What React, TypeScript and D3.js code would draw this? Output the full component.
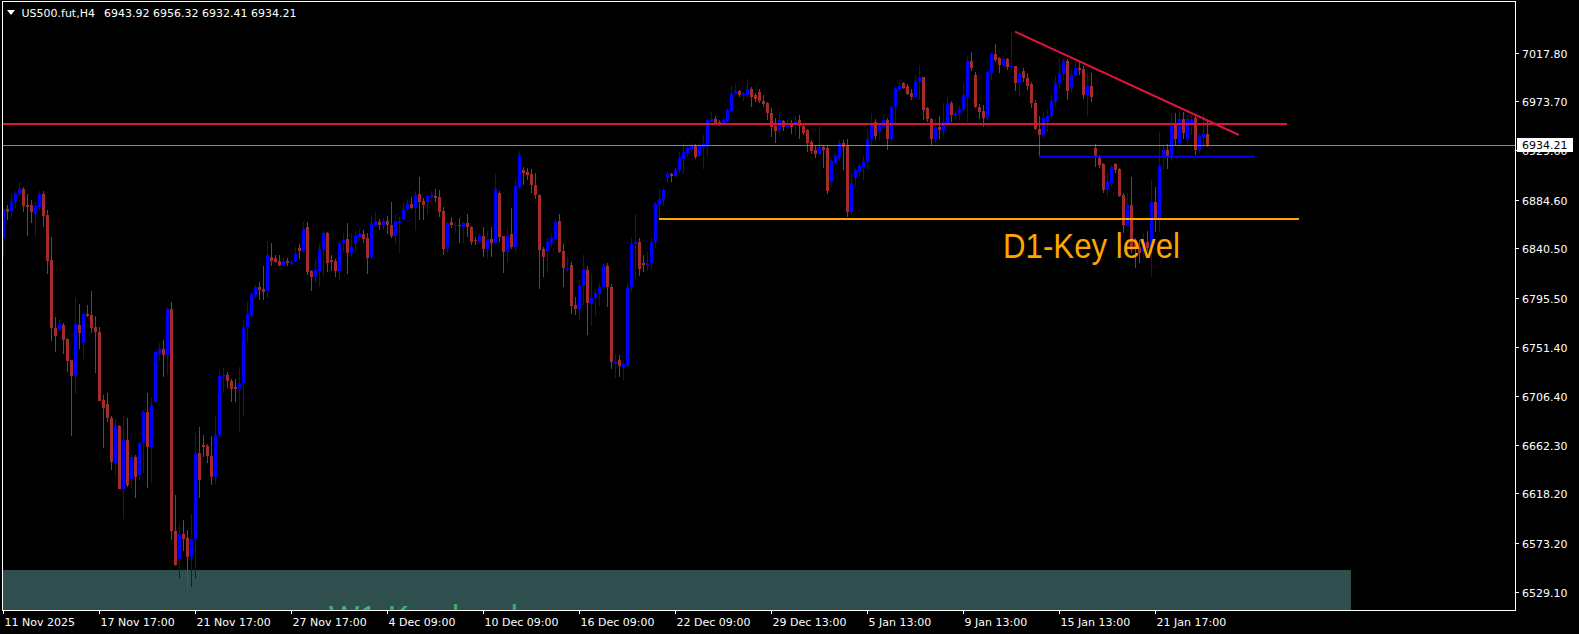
import { useEffect, useRef } from 'react'
import * as d3 from 'd3'

// H4 candles (bar 0 = 11 Nov 2025)
const opens = [
  6850, 6876, 6874, 6882, 6890, 6894, 6880, 6880, 6872, 6878,
  6890, 6871, 6830, 6768, 6767, 6771, 6758, 6739, 6725, 6771,
  6755, 6781, 6780, 6769, 6765, 6703, 6699, 6687, 6646, 6679,
  6622, 6667, 6631, 6651, 6635, 6664, 6692, 6660, 6701, 6745,
  6749, 6744, 6785, 6584, 6559, 6581, 6578, 6561, 6577, 6655,
  6662, 6661, 6652, 6633, 6671, 6724, 6726, 6720, 6715, 6713,
  6718, 6769, 6779, 6798, 6805, 6804, 6802, 6833, 6832, 6829,
  6825, 6829, 6826, 6829, 6841, 6838, 6860, 6820, 6814, 6820,
  6840, 6854, 6830, 6829, 6820, 6845, 6849, 6836, 6844, 6851,
  6853, 6850, 6833, 6862, 6864, 6862, 6865, 6862, 6852, 6863,
  6867, 6876, 6881, 6877, 6890, 6883, 6882, 6887, 6888, 6887,
  6874, 6841, 6864, 6861, 6862, 6860, 6863, 6860, 6848, 6847,
  6852, 6840, 6849, 6845, 6891, 6852, 6837, 6853, 6842, 6896,
  6911, 6910, 6908, 6898, 6889, 6840, 6837, 6845, 6849, 6865,
  6838, 6822, 6825, 6789, 6785, 6806, 6821, 6790, 6795, 6799,
  6805, 6824, 6805, 6736, 6739, 6733, 6734, 6805, 6844, 6846,
  6827, 6825, 6827, 6846, 6880, 6884, 6904, 6908, 6906, 6911,
  6921, 6927, 6930, 6933, 6924, 6932, 6934, 6956, 6958, 6955,
  6954, 6956, 6965, 6981, 6983, 6979, 6979, 6985, 6979, 6982,
  6974, 6972, 6963, 6951, 6949, 6956, 6950, 6953, 6952, 6957,
  6951, 6948, 6937, 6930, 6926, 6932, 6931, 6901, 6918, 6923,
  6936, 6933, 6873, 6905, 6910, 6914, 6920, 6940, 6955, 6946,
  6950, 6957, 6940, 6969, 6985, 6990, 6988, 6981, 6978, 6992,
  6996, 6968, 6958, 6940, 6950, 6947, 6954, 6972, 6961, 6963,
  6966, 6978, 7010, 6998, 6969, 6965, 6959, 6999, 7017, 7013,
  7007, 7012, 7005, 7006, 6990, 7001, 6995, 6989, 6972, 6949,
  6943, 6955, 6960, 6973, 6990, 6999, 7010, 6986, 6998, 7004,
  7003, 6979, 6988, 6931, 6924, 6917, 6893, 6900, 6917, 6912,
  6889, 6862, 6880, 6848, 6842, 6838, 6846, 6842, 6882, 6868,
  6923, 6930, 6922, 6954, 6936, 6958, 6939, 6953, 6959, 6930,
  6941, 6943.92,
]
const highs = [
  6877, 6880, 6890, 6892, 6901, 6896, 6890, 6884, 6882, 6892,
  6892, 6875, 6851, 6778, 6776, 6773, 6759, 6739, 6795, 6790,
  6782, 6789, 6802, 6779, 6769, 6707, 6709, 6688, 6686, 6680,
  6688, 6687, 6653, 6653, 6665, 6694, 6709, 6705, 6748, 6755,
  6757, 6787, 6792, 6617, 6590, 6594, 6585, 6600, 6673, 6678,
  6671, 6663, 6670, 6688, 6729, 6732, 6728, 6722, 6722, 6733,
  6775, 6793, 6800, 6807, 6810, 6824, 6847, 6845, 6834, 6834,
  6833, 6832, 6830, 6842, 6844, 6864, 6864, 6821, 6830, 6844,
  6856, 6855, 6834, 6831, 6847, 6854, 6863, 6853, 6856, 6858,
  6857, 6854, 6870, 6873, 6867, 6868, 6870, 6882, 6872, 6869,
  6882, 6884, 6887, 6892, 6905, 6886, 6889, 6892, 6894, 6893,
  6878, 6864, 6869, 6864, 6868, 6864, 6872, 6861, 6851, 6854,
  6860, 6856, 6860, 6909, 6892, 6852, 6858, 6877, 6903, 6929,
  6914, 6913, 6912, 6909, 6890, 6842, 6850, 6853, 6866, 6872,
  6844, 6833, 6828, 6796, 6812, 6834, 6824, 6818, 6804, 6809,
  6826, 6827, 6808, 6745, 6744, 6738, 6809, 6851, 6872, 6850,
  6834, 6837, 6850, 6882, 6894, 6895, 6910, 6909, 6913, 6928,
  6936, 6934, 6936, 6935, 6936, 6943, 6959, 6964, 6960, 6957,
  6959, 6968, 6988, 6989, 6984, 6982, 6994, 6987, 6981, 6985,
  6979, 6973, 6968, 6959, 6962, 6957, 6958, 6957, 6960, 6961,
  6953, 6949, 6939, 6933, 6951, 6934, 6934, 6921, 6926, 6939,
  6939, 6940, 6909, 6913, 6918, 6924, 6949, 6963, 6958, 6954,
  6960, 6959, 6970, 6987, 6991, 6991, 6989, 6985, 6998, 7007,
  6996, 6969, 6959, 6958, 6960, 6972, 6978, 6974, 6965, 6970,
  6989, 7014, 7018, 7000, 6971, 6970, 7001, 7018, 7026, 7014,
  7015, 7013, 7037, 7006, 7002, 7004, 6999, 6991, 6975, 6960,
  6963, 6967, 6979, 6997, 7013, 7013, 7012, 7003, 7009, 7010,
  7006, 6999, 6999, 6935, 6925, 6918, 6909, 6916, 6918, 6913,
  6891, 6891, 6905, 6850, 6848, 6854, 6856, 6902, 6896, 6946,
  6935, 6935, 6963, 6963, 6966, 6964, 6961, 6960, 6960, 6945,
  6963, 6956.32,
]
const lows = [
  6831, 6866, 6867, 6877, 6887, 6873, 6852, 6863, 6851, 6875,
  6860, 6817, 6756, 6746, 6765, 6745, 6728, 6670, 6708, 6749,
  6740, 6778, 6764, 6727, 6702, 6659, 6683, 6639, 6635, 6622,
  6595, 6624, 6622, 6614, 6630, 6637, 6623, 6628, 6700, 6738,
  6724, 6726, 6576, 6552, 6541, 6566, 6526, 6533, 6541, 6614,
  6651, 6646, 6626, 6627, 6669, 6709, 6714, 6701, 6701, 6674,
  6688, 6755, 6778, 6795, 6794, 6794, 6795, 6824, 6827, 6824,
  6824, 6824, 6824, 6828, 6831, 6836, 6816, 6802, 6809, 6805,
  6814, 6819, 6820, 6814, 6812, 6837, 6817, 6833, 6837, 6847,
  6845, 6817, 6831, 6860, 6857, 6857, 6853, 6850, 6844, 6836,
  6865, 6874, 6876, 6856, 6866, 6866, 6872, 6885, 6882, 6869,
  6834, 6836, 6859, 6854, 6845, 6845, 6851, 6843, 6843, 6845,
  6833, 6831, 6833, 6844, 6846, 6818, 6828, 6840, 6837, 6894,
  6898, 6902, 6891, 6885, 6804, 6814, 6818, 6842, 6848, 6836,
  6805, 6819, 6781, 6780, 6775, 6789, 6762, 6770, 6779, 6788,
  6804, 6787, 6731, 6723, 6724, 6721, 6733, 6801, 6813, 6815,
  6819, 6820, 6822, 6841, 6867, 6879, 6900, 6901, 6904, 6909,
  6908, 6923, 6928, 6921, 6923, 6912, 6923, 6955, 6952, 6951,
  6952, 6955, 6964, 6980, 6978, 6974, 6977, 6969, 6973, 6972,
  6969, 6957, 6941, 6936, 6944, 6947, 6949, 6944, 6943, 6940,
  6943, 6928, 6926, 6922, 6925, 6913, 6890, 6896, 6917, 6920,
  6911, 6869, 6872, 6896, 6906, 6902, 6911, 6934, 6939, 6939,
  6949, 6930, 6938, 6950, 6983, 6985, 6979, 6975, 6977, 6975,
  6957, 6955, 6934, 6936, 6940, 6943, 6950, 6955, 6958, 6957,
  6964, 6955, 7001, 6968, 6958, 6950, 6957, 6993, 7009, 6999,
  7006, 7002, 7003, 6983, 6978, 6991, 6984, 6968, 6948, 6923.5,
  6941, 6946, 6959, 6969, 6986, 6993, 6975, 6982, 6996, 6998,
  6976, 6960, 6973, 6914, 6913, 6891, 6887, 6896, 6909, 6887,
  6854, 6860, 6836, 6823, 6827, 6831, 6838, 6814, 6855, 6855,
  6912, 6912, 6920, 6934, 6931, 6940, 6936, 6943, 6925, 6927,
  6932, 6932.41,
]
const closes = [
  6876, 6873, 6883, 6890, 6894, 6879, 6878, 6873, 6879, 6890,
  6870, 6829, 6768, 6761, 6772, 6757, 6738, 6725, 6772, 6764,
  6781, 6779, 6768, 6765, 6702, 6696, 6687, 6647, 6680, 6622,
  6667, 6626, 6651, 6633, 6664, 6692, 6660, 6698, 6746, 6749,
  6744, 6785, 6584, 6553, 6581, 6577, 6561, 6577, 6654, 6630,
  6660, 6652, 6633, 6671, 6725, 6726, 6720, 6713, 6713, 6718,
  6769, 6781, 6799, 6805, 6803, 6801, 6834, 6829, 6828, 6824,
  6829, 6827, 6828, 6835, 6838, 6858, 6819, 6814, 6821, 6840,
  6854, 6827, 6828, 6820, 6845, 6848, 6836, 6842, 6852, 6853,
  6849, 6832, 6863, 6865, 6862, 6865, 6862, 6852, 6864, 6865,
  6876, 6881, 6877, 6889, 6882, 6880, 6888, 6889, 6886, 6873,
  6840, 6863, 6862, 6862, 6861, 6863, 6860, 6846, 6847, 6852,
  6840, 6849, 6845, 6894, 6851, 6837, 6852, 6842, 6897, 6925,
  6909, 6907, 6898, 6889, 6839, 6833, 6846, 6850, 6864, 6837,
  6823, 6823, 6788, 6785, 6806, 6821, 6791, 6795, 6800, 6805,
  6824, 6805, 6737, 6737, 6734, 6736, 6805, 6844, 6846, 6822,
  6825, 6827, 6846, 6881, 6885, 6893, 6908, 6906, 6911, 6922,
  6928, 6931, 6933, 6923, 6933, 6935, 6957, 6958, 6954, 6954,
  6957, 6966, 6980, 6983, 6979, 6981, 6985, 6978, 6976, 6974,
  6971, 6963, 6950, 6947, 6957, 6950, 6952, 6950, 6956, 6951,
  6945, 6936, 6929, 6926, 6932, 6930, 6892, 6920, 6924, 6936,
  6932, 6873, 6900, 6911, 6915, 6920, 6940, 6952, 6942, 6951,
  6957, 6940, 6969, 6986, 6988, 6986, 6980, 6978, 6992, 6995,
  6966, 6958, 6940, 6950, 6948, 6955, 6971, 6961, 6963, 6967,
  6979, 7010, 7004, 6969, 6964, 6959, 7000, 7017, 7011, 7007,
  7012, 7005, 7006, 6990, 6999, 6995, 6988, 6972, 6949, 6943,
  6959, 6960, 6974, 6990, 6999, 7010, 6983, 6998, 7004, 7002,
  6979, 6988, 6978, 6924, 6916, 6893, 6901, 6914, 6911, 6888,
  6862, 6880, 6839, 6842, 6836, 6846, 6841, 6882, 6868, 6915,
  6930, 6924, 6954, 6940, 6958, 6945, 6958, 6958, 6930, 6942,
  6944, 6934.21,
]

const priceTicks = [7017.8, 6973.7, 6929.6, 6884.6, 6840.5, 6795.5, 6751.4, 6706.4, 6662.3, 6618.2, 6573.2, 6529.1]
const timeTickBars = [0, 24, 48, 72, 96, 120, 144, 168, 192, 216, 240, 264, 288]
const timeLabels = [
  '11 Nov 2025', '17 Nov 17:00', '21 Nov 17:00', '27 Nov 17:00', '4 Dec 09:00',
  '10 Dec 09:00', '16 Dec 09:00', '22 Dec 09:00', '29 Dec 13:00', '5 Jan 13:00',
  '9 Jan 13:00', '15 Jan 13:00', '21 Jan 17:00',
]

// drawn objects (bar index / price)
const bidPrice = 6934.21
const redLevel = { price: 6953.2, toBar: 321 }
const blueLevel = { price: 6923.5, fromBar: 259, toBar: 313 }
const orangeLevel = { price: 6867, fromBar: 164, toBar: 324 }
const trendLine = [{ bar: 253, price: 7036.9 }, { bar: 309, price: 6943.2 }]
const weeklyZone = { top: 6548.8, bottom: 6480, toBar: 337 }
const d1Label = { text: 'D1-Key level', bar: 250, price: 6831.7 }
const w1Label = { text: 'W1-Key level', bar: 81.5, price: 6494.4 }

const W = 1579
const H = 634
const plot = { left: 3, right: 1515, top: 2, bottom: 610 }
const axisFont = 'DejaVu Sans, Verdana, sans-serif'

export default function App() {
  const svgRef = useRef<SVGSVGElement | null>(null)

  useEffect(() => {
    if (!svgRef.current) return
    document.body.style.margin = '0'
    document.body.style.background = '#000'

    const svg = d3.select(svgRef.current)
    svg.selectAll('*').remove()

    const x = d3.scaleLinear().domain([0, 1]).range([3, 7])
    const y = d3.scaleLinear().domain([7017.8, 6529.1]).range([52.7, 591.7])

    svg.append('rect').attr('width', W).attr('height', H).attr('fill', '#000')

    svg.append('defs').append('clipPath').attr('id', 'plotClip')
      .append('rect')
      .attr('x', plot.left).attr('y', plot.top)
      .attr('width', plot.right - plot.left).attr('height', plot.bottom - plot.top)

    const g = svg.append('g').attr('clip-path', 'url(#plotClip)')

    // weekly zone + its label (mostly below the visible area)
    g.append('rect')
      .attr('x', plot.left)
      .attr('y', y(weeklyZone.top))
      .attr('width', x(weeklyZone.toBar) - plot.left)
      .attr('height', y(weeklyZone.bottom) - y(weeklyZone.top))
      .attr('fill', '#2F4F4F')
    g.append('text')
      .attr('x', x(w1Label.bar)).attr('y', y(w1Label.price))
      .attr('font-family', 'Liberation Sans, Arial, sans-serif')
      .attr('font-size', 35)
      .attr('textLength', 189).attr('lengthAdjust', 'spacingAndGlyphs')
      .attr('fill', '#3CB371')
      .text(w1Label.text)

    // candles
    const bars = d3.range(opens.length).map(i => ({
      i, o: opens[i], h: highs[i], l: lows[i], c: closes[i],
    }))
    const candle = g.append('g').attr('shape-rendering', 'crispEdges')
      .selectAll('g').data(bars).join('g')
      .attr('fill', d => (d.c >= d.o ? '#0000FF' : '#A52A2A'))
    candle.append('rect')
      .attr('x', d => Math.round(x(d.i)))
      .attr('width', 1)
      .attr('y', d => Math.round(y(d.h)))
      .attr('height', d => Math.max(1, Math.round(y(d.l)) - Math.round(y(d.h))))
    candle.append('rect')
      .attr('x', d => Math.round(x(d.i)) - 1)
      .attr('width', 3)
      .attr('y', d => Math.round(y(Math.max(d.o, d.c))))
      .attr('height', d => Math.max(1, Math.round(y(Math.min(d.o, d.c))) - Math.round(y(Math.max(d.o, d.c)))))

    // levels
    g.append('line')
      .attr('x1', plot.left).attr('x2', x(redLevel.toBar))
      .attr('y1', y(redLevel.price)).attr('y2', y(redLevel.price))
      .attr('stroke', '#DC143C').attr('stroke-width', 2)
    g.append('line')
      .attr('x1', x(blueLevel.fromBar)).attr('x2', x(blueLevel.toBar))
      .attr('y1', y(blueLevel.price)).attr('y2', y(blueLevel.price))
      .attr('stroke', '#0000FF').attr('stroke-width', 2)
    g.append('line')
      .attr('x1', x(orangeLevel.fromBar)).attr('x2', x(orangeLevel.toBar))
      .attr('y1', y(orangeLevel.price)).attr('y2', y(orangeLevel.price))
      .attr('stroke', '#FFA500').attr('stroke-width', 2)
    g.append('line')
      .attr('x1', x(trendLine[0].bar)).attr('y1', y(trendLine[0].price))
      .attr('x2', x(trendLine[1].bar)).attr('y2', y(trendLine[1].price))
      .attr('stroke', '#DC143C').attr('stroke-width', 2)
    g.append('line')
      .attr('x1', plot.left).attr('x2', plot.right)
      .attr('y1', Math.round(y(bidPrice)) + 0.5).attr('y2', Math.round(y(bidPrice)) + 0.5)
      .attr('stroke', '#778899').attr('stroke-width', 1)

    g.append('text')
      .attr('x', x(d1Label.bar)).attr('y', y(d1Label.price))
      .attr('font-family', 'Liberation Sans, Arial, sans-serif')
      .attr('font-size', 35)
      .attr('textLength', 177).attr('lengthAdjust', 'spacingAndGlyphs')
      .attr('fill', '#FFA500')
      .text(d1Label.text)

    // frame
    svg.append('rect')
      .attr('x', plot.left - 0.5).attr('y', plot.top - 0.5)
      .attr('width', plot.right - plot.left + 1).attr('height', plot.bottom - plot.top + 1)
      .attr('fill', 'none').attr('stroke', '#fff').attr('stroke-width', 1)

    // price axis
    const py = svg.append('g').attr('font-family', axisFont).attr('font-size', 11).attr('fill', '#fff')
    priceTicks.forEach(p => {
      const yy = Math.round(y(p)) + 0.5
      py.append('line').attr('x1', plot.right).attr('x2', plot.right + 4)
        .attr('y1', yy).attr('y2', yy).attr('stroke', '#fff')
      py.append('text').attr('x', plot.right + 7).attr('y', yy + 4).text(p.toFixed(2))
    })
    const by = Math.round(y(bidPrice))
    svg.append('rect').attr('x', plot.right + 2).attr('y', by - 7)
      .attr('width', 56).attr('height', 14).attr('fill', '#fff')
    svg.append('text').attr('x', plot.right + 7).attr('y', by + 4)
      .attr('font-family', axisFont).attr('font-size', 11).attr('fill', '#000')
      .text(bidPrice.toFixed(2))

    // time axis
    const tx = svg.append('g').attr('font-family', axisFont).attr('font-size', 11).attr('fill', '#fff')
    timeTickBars.forEach((b, k) => {
      const xx = Math.round(x(b)) + 0.5
      tx.append('line').attr('x1', xx).attr('x2', xx)
        .attr('y1', plot.bottom).attr('y2', plot.bottom + 4).attr('stroke', '#fff')
      tx.append('text').attr('x', xx + 1).attr('y', 626).text(timeLabels[k])
    })

    // title
    svg.append('path').attr('d', 'M7,10 L15,10 L11,15 Z').attr('fill', '#fff')
    const title = svg.append('g').attr('font-family', axisFont).attr('font-size', 11).attr('fill', '#fff')
    title.append('text').attr('x', 21.5).attr('y', 16.5).text('US500.fut,H4')
    title.append('text').attr('x', 104).attr('y', 16.5)
      .text([opens, highs, lows, closes].map(a => a[a.length - 1].toFixed(2)).join(' '))
  }, [])

  return (
    <svg
      ref={svgRef}
      width={W}
      height={H}
      style={{ position: 'absolute', left: 0, top: 0, display: 'block' }}
    />
  )
}
